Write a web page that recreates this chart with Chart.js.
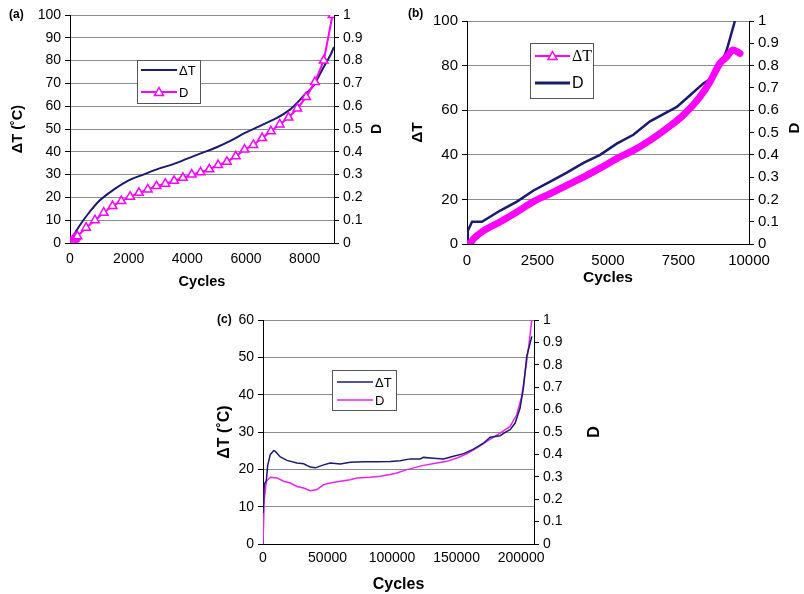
<!DOCTYPE html>
<html>
<head>
<meta charset="utf-8">
<script src="https://cdn.jsdelivr.net/npm/chart.js@4"></script>
<style>
  body { margin: 0; background: #fff; width: 804px; height: 594px; position: relative; overflow: hidden; }
  canvas { position: absolute; }
</style>
</head>
<body>
<canvas id="chartA" width="400" height="300" style="left:0;top:0"></canvas>
<canvas id="chartB" width="404" height="300" style="left:400px;top:0"></canvas>
<canvas id="chartC" width="420" height="294" style="left:190px;top:300px"></canvas>
<script>
// (a) data
const aTempCycles = [0, 100, 200, 400, 600, 1000, 1500, 2000, 2500, 3000, 3500, 4000, 4500, 5000, 5500, 6000, 6500, 7000, 7500, 8000, 8300, 8600, 8900, 9000];
const aTemp = [0, 2.5, 5, 9, 12.5, 18.5, 23.5, 27.5, 30, 32.5, 34.5, 37, 39.5, 42, 45, 48.5, 51.5, 54.5, 58.5, 65, 69, 76, 83, 86];
const aDamageCycles = [0, 40, 80, 120, 160, 200, 250, 550, 850, 1150, 1450, 1750, 2050, 2350, 2650, 2950, 3250, 3550, 3850, 4150, 4450, 4750, 5050, 5350, 5650, 5950, 6250, 6550, 6850, 7150, 7450, 7750, 8050, 8350, 8650, 8950];
const aDamage = [0, 0.005, 0.01, 0.015, 0.02, 0.025, 0.03, 0.067, 0.10, 0.133, 0.162, 0.184, 0.203, 0.22, 0.235, 0.25, 0.26, 0.273, 0.286, 0.30, 0.31, 0.323, 0.342, 0.356, 0.38, 0.41, 0.43, 0.46, 0.49, 0.52, 0.55, 0.59, 0.64, 0.706, 0.80, 1.0];
const aXTicks = [0, 2000, 4000, 6000, 8000];

// (b) data
const bTempCycles = [0, 120, 236, 590, 1180, 1770, 2360, 2950, 3540, 4130, 4720, 5310, 5900, 6490, 7080, 7670, 8260, 8620, 8970, 9210, 9440, 9680];
const bTemp = [0, 0.5, 2.4, 6, 10, 14.4, 19, 22.6, 26.3, 30, 34, 38.3, 42, 46.5, 51.8, 57.8, 66, 72.8, 81, 84, 87, 85.5];
const bDamageCycles = [0, 30, 180, 530, 1180, 1770, 2360, 2950, 3540, 4130, 4720, 5310, 5900, 6490, 7080, 7440, 7910, 8380, 8620, 8800, 9090, 9210, 9500];
const bDamage = [0, 0.06, 0.1, 0.1, 0.15, 0.19, 0.24, 0.28, 0.32, 0.364, 0.40, 0.45, 0.49, 0.55, 0.59, 0.615, 0.667, 0.72, 0.74, 0.78, 0.83, 0.87, 1.0];
const bXTicks = [0, 2500, 5000, 7500, 10000];

// (c) data
const cTempCycles = [0, 1000, 2600, 3600, 5700, 8300, 9600, 13400, 18600, 26300, 31500, 36600, 40500, 47000, 52100, 59900, 67600, 77900, 88300, 98600, 106300, 114000, 121800, 124400, 132100, 139900, 147600, 155400, 163100, 170800, 176000, 183700, 187600, 191500, 195400, 199200, 201800, 204400, 207000, 208300];
const cTemp = [8.3, 16, 17, 21, 24, 25, 24.8, 23.3, 22.4, 21.7, 21.5, 20.6, 20.4, 21.2, 21.7, 21.4, 21.9, 22, 22, 22.1, 22.3, 22.8, 22.8, 23.2, 23, 22.8, 23.5, 24.2, 25.4, 27, 28.6, 29, 29.9, 30.6, 32.4, 36.4, 41.8, 50.3, 53.8, 55.6];
const cDamageCycles = [0, 1000, 2600, 5700, 10800, 16000, 21200, 26300, 31500, 36600, 41800, 47000, 52100, 59900, 67600, 72800, 83100, 90800, 98600, 103700, 111500, 124400, 134700, 142500, 150200, 157900, 165700, 173400, 183700, 191500, 196600, 200500, 203100, 205700, 208300];
const cDamage = [0, 0.2, 0.28, 0.298, 0.295, 0.28, 0.272, 0.257, 0.25, 0.238, 0.243, 0.265, 0.272, 0.28, 0.287, 0.295, 0.298, 0.302, 0.31, 0.317, 0.332, 0.351, 0.362, 0.369, 0.384, 0.403, 0.429, 0.458, 0.495, 0.525, 0.577, 0.66, 0.763, 0.875, 1.0];
const cXTicks = [0, 50000, 100000, 150000, 200000];

const NAVY = '#1a1a72';
const MAGENTA = '#ff00ff';
const FONT = '"Liberation Sans", Arial, sans-serif';

function pts(xs, ys) {
    return xs.map((x, i) => ({ x: x, y: ys[i] }));
}

// legend box, panel letter and right "D" title (rotated like the left one)
const decor = {
    id: 'decor',
    afterDraw(chart, args, o) {
        const c = chart.ctx;
        c.save();
        c.fillStyle = '#000';
        c.textBaseline = 'middle';
        c.textAlign = 'left';
        c.font = 'bold 12px ' + FONT;
        c.fillText(o.panel, o.panelX, o.panelY);

        c.save();
        c.translate(o.dX, o.dY);
        c.rotate(-Math.PI / 2);
        c.textAlign = 'center';
        c.font = 'bold ' + o.dSize + 'px ' + FONT;
        c.fillText('D', 0, 0);
        c.restore();

        const [bx, by, bw, bh] = o.box;
        c.fillStyle = '#fff';
        c.fillRect(bx, by, bw, bh);
        c.strokeStyle = '#555';
        c.lineWidth = 1;
        c.strokeRect(bx + 0.5, by + 0.5, bw, bh);
        o.items.forEach(it => {
            const ds = chart.data.datasets[it.ds];
            c.strokeStyle = ds.borderColor;
            c.lineWidth = it.width;
            c.beginPath();
            c.moveTo(it.x0, it.y);
            c.lineTo(it.x1, it.y);
            c.stroke();
            if (it.marker) {
                const mx = (it.x0 + it.x1) / 2, r = 4.5;
                c.lineWidth = 1.5;
                c.fillStyle = '#fff';
                c.beginPath();
                c.moveTo(mx, it.y - r);
                c.lineTo(mx + r, it.y + r * 0.75);
                c.lineTo(mx - r, it.y + r * 0.75);
                c.closePath();
                c.fill();
                c.stroke();
            }
            c.fillStyle = '#000';
            c.font = it.font;
            c.textAlign = 'left';
            c.fillText(ds.label, it.x1 + 2, it.y + 1);
        });
        c.restore();
    }
};

function axes(cfg) {
    return {
        x: {
            type: 'linear', min: 0, max: cfg.xMax,
            afterBuildTicks(s) { s.ticks = cfg.xTicks.map(v => ({ value: v })); },
            ticks: { autoSkip: false, maxRotation: 0, padding: cfg.xPad, color: '#000', font: { family: FONT, size: cfg.tick },
                     callback: v => String(v) },
            grid: { drawOnChartArea: false, drawTicks: false },
            border: { color: '#000' },
            title: { display: true, text: 'Cycles', color: '#000', font: { family: FONT, size: cfg.title, weight: 'bold' }, padding: { top: 0, bottom: cfg.xTitlePad } },
            afterFit(s) { s.height = cfg.xH; }
        },
        y: {
            position: 'left', min: 0, max: cfg.yMax,
            ticks: { stepSize: cfg.yStep, padding: 4, color: '#000', font: { family: FONT, size: cfg.tick } },
            grid: { color: '#8c8c8c', tickColor: '#000', tickLength: 5 },
            border: { color: '#000' },
            title: { display: true, text: cfg.yTitle, color: '#000', font: { family: FONT, size: cfg.title, weight: 'bold' }, padding: { top: cfg.yTitlePad, bottom: 0 } },
            afterFit(s) { s.width = cfg.yW; }
        },
        y1: {
            position: 'right', min: 0, max: 1,
            ticks: { stepSize: 0.1, padding: 4, color: '#000', font: { family: FONT, size: cfg.tick },
                     callback: v => String(Math.round(v * 10) / 10) },
            grid: { drawOnChartArea: false, tickColor: '#000', tickLength: 5 },
            border: { color: '#000' },
            afterFit(s) { s.width = cfg.y1W; }
        }
    };
}

const common = {
    responsive: false,
    animation: false,
    devicePixelRatio: 1,
    plugins: { legend: { display: false }, tooltip: { enabled: false } }
};

new Chart(document.getElementById('chartA'), {
    type: 'line',
    data: {
        datasets: [
            { label: 'D', data: pts(aDamageCycles, aDamage), yAxisID: 'y1', borderColor: MAGENTA, borderWidth: 2,
              pointStyle: 'triangle', pointRadius: 5, pointBorderWidth: 1.5, pointBackgroundColor: '#fff', pointBorderColor: MAGENTA },
            { label: 'ΔT', data: pts(aTempCycles, aTemp), yAxisID: 'y', borderColor: NAVY, borderWidth: 2, pointRadius: 0,
              cubicInterpolationMode: 'monotone' }
        ]
    },
    options: Object.assign({}, common, {
        layout: { padding: { top: 15 } },
        scales: axes({ xMax: 9000, xTicks: aXTicks, xPad: 8, xH: 57, xTitlePad: 9, tick: 14, title: 14.5,
                       yMax: 100, yStep: 10, yTitle: 'ΔT (˚C)', yTitlePad: 9.5, yW: 70, y1W: 66 }),
        plugins: Object.assign({}, common.plugins, {
            decor: { panel: '(a)', panelX: 9, panelY: 15, dX: 377, dY: 129, dSize: 14,
                     box: [137, 60, 63, 43],
                     items: [{ ds: 1, y: 70, x0: 141, x1: 177, width: 2, font: '13px ' + FONT },
                             { ds: 0, y: 92, x0: 141, x1: 177, width: 2, marker: true, font: '13px ' + FONT }] }
        })
    }),
    plugins: [decor]
});

new Chart(document.getElementById('chartB'), {
    type: 'line',
    data: {
        datasets: [
            { label: 'ΔT', data: pts(bTempCycles, bTemp), yAxisID: 'y', borderColor: MAGENTA, borderWidth: 7, pointRadius: 0,
              borderCapStyle: 'round', cubicInterpolationMode: 'monotone' },
            { label: 'D', data: pts(bDamageCycles, bDamage), yAxisID: 'y1', borderColor: NAVY, borderWidth: 2.5, pointRadius: 0 }
        ]
    },
    options: Object.assign({}, common, {
        layout: { padding: { top: 21 } },
        scales: axes({ xMax: 10000, xTicks: bXTicks, xPad: 8, xH: 56, xTitlePad: 13, tick: 15, title: 15.5,
                       yMax: 100, yStep: 20, yTitle: 'ΔT', yTitlePad: 8, yW: 67, y1W: 55 }),
        plugins: Object.assign({}, common.plugins, {
            decor: { panel: '(b)', panelX: 8, panelY: 14, dX: 395, dY: 128, dSize: 15,
                     box: [130, 43, 63, 55],
                     items: [{ ds: 0, y: 56, x0: 135, x1: 170, width: 2, marker: true, font: '16px "Liberation Serif", serif' },
                             { ds: 1, y: 83, x0: 135, x1: 170, width: 3, font: '16px ' + FONT }] }
        })
    }),
    plugins: [decor]
});

new Chart(document.getElementById('chartC'), {
    type: 'line',
    data: {
        datasets: [
            { label: 'ΔT', data: pts(cTempCycles, cTemp), yAxisID: 'y', borderColor: NAVY, borderWidth: 1.5, pointRadius: 0 },
            { label: 'D', data: pts(cDamageCycles, cDamage), yAxisID: 'y1', borderColor: '#ee22ee', borderWidth: 1.5, pointRadius: 0 }
        ]
    },
    options: Object.assign({}, common, {
        layout: { padding: { top: 20 } },
        scales: axes({ xMax: 210000, xTicks: cXTicks, xPad: 6, xH: 50, xTitlePad: 0, tick: 14, title: 16,
                       yMax: 60, yStep: 10, yTitle: 'ΔT (˚C)', yTitlePad: 25, yW: 73, y1W: 76 }),
        plugins: Object.assign({}, common.plugins, {
            decor: { panel: '(c)', panelX: 27, panelY: 20, dX: 405, dY: 132, dSize: 16,
                     box: [142, 70, 64, 40],
                     items: [{ ds: 0, y: 82, x0: 147, x1: 183, width: 1.5, font: '13px ' + FONT },
                             { ds: 1, y: 100, x0: 147, x1: 183, width: 1.5, font: '13px ' + FONT }] }
        })
    }),
    plugins: [decor]
});
</script>
</body>
</html>
